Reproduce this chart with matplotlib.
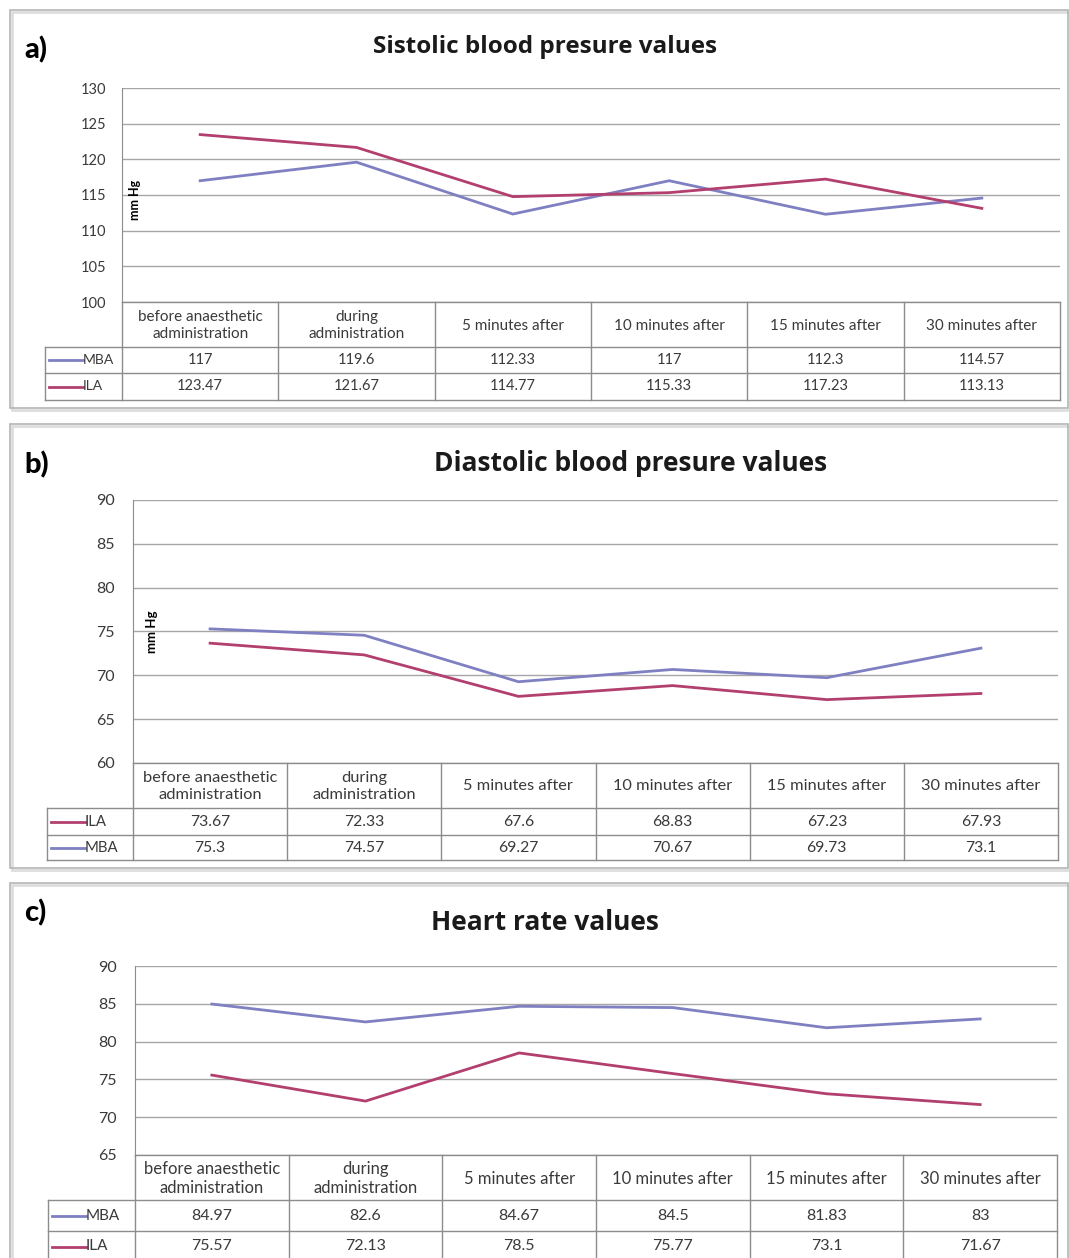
import matplotlib
matplotlib.use("Agg")
import matplotlib.pyplot as plt
from matplotlib.lines import Line2D
from matplotlib.patches import Rectangle

plt.rcParams['font.family'] = ['Lato', 'DejaVu Sans']

W, H = 1069, 1258

categories = ["before anaesthetic\nadministration", "during\nadministration",
              "5 minutes after", "10 minutes after", "15 minutes after",
              "30 minutes after"]

sys_mba = [117, 119.6, 112.33, 117, 112.3, 114.57]
sys_ila = [123.47, 121.67, 114.77, 115.33, 117.23, 113.13]

dia_ila = [73.67, 72.33, 67.6, 68.83, 67.23, 67.93]
dia_mba = [75.3, 74.57, 69.27, 70.67, 69.73, 73.1]

hr_mba = [84.97, 82.6, 84.67, 84.5, 81.83, 83]
hr_ila = [75.57, 72.13, 78.5, 75.77, 73.1, 71.67]

mba_color = '#7f80c2'
ila_color = '#b23f6e'
grid_color = '#a6a6a6'
tab_color = '#8c8c8c'
txt_color = '#3a3a3a'

panels = [
    dict(label='a)', title='Sistolic blood presure values', title_xy=(545, 47), title_size=17.5,
         label_xy=(24, 50), box=(10, 10, 1068, 408),
         plot=(122, 88, 1060, 302), legend_left=45, rows_y=[347, 373, 400],
         ylim=(100, 130), ticks=[100, 105, 110, 115, 120, 125, 130], tick_size=10.5, pad=11,
         tab_size=11, mmhg=(135, 200), mmhg_size=9,
         series=[('MBA', sys_mba, mba_color), ('ILA', sys_ila, ila_color)]),
    dict(label='b)', title='Diastolic blood presure values', title_xy=(631, 463), title_size=19,
         label_xy=(24, 465), box=(10, 424, 1068, 868),
         plot=(133, 500, 1058, 763), legend_left=47, rows_y=[808, 835, 860],
         ylim=(60, 90), ticks=[60, 65, 70, 75, 80, 85, 90], tick_size=11.5, pad=13,
         tab_size=11.8, mmhg=(152, 632), mmhg_size=9.5,
         series=[('ILA', dia_ila, ila_color), ('MBA', dia_mba, mba_color)]),
    dict(label='c)', title='Heart rate values', title_xy=(545, 922), title_size=19,
         label_xy=(24, 913), box=(10, 883, 1068, 1262),
         plot=(135, 966, 1057, 1155), legend_left=48, rows_y=[1200, 1231, 1262],
         ylim=(65, 90), ticks=[65, 70, 75, 80, 85, 90], tick_size=11.5, pad=13,
         tab_size=12, mmhg=None, mmhg_size=9,
         series=[('MBA', hr_mba, mba_color), ('ILA', hr_ila, ila_color)]),
]


def fx(x):
    return x / W


def fy(y):
    return 1 - y / H


def fline(fig, xs, ys, color=tab_color, lw=1.0):
    fig.add_artist(Line2D([fx(x) for x in xs], [fy(y) for y in ys],
                          color=color, lw=lw, transform=fig.transFigure))


fig = plt.figure(figsize=(W / 100, H / 100), dpi=100)
fig.patch.set_facecolor('white')

for p in panels:
    bx0, by0, bx1, by1 = p['box']
    # panel frame with a faint shadow
    fig.add_artist(Rectangle((fx(bx0 + 2), fy(by1 + 2)), fx(bx1 - bx0), (by1 - by0) / H,
                             transform=fig.transFigure, fill=False, ec='#dddddd', lw=2))
    fig.add_artist(Rectangle((fx(bx0), fy(by1)), fx(bx1 - bx0), (by1 - by0) / H,
                             transform=fig.transFigure, fill=False, ec='#b5b5b5', lw=1.2))

    fig.text(fx(p['label_xy'][0]), fy(p['label_xy'][1]), p['label'], fontsize=21,
             fontweight='black', ha='left', va='center')
    fig.text(fx(p['title_xy'][0]), fy(p['title_xy'][1]), p['title'], fontsize=p['title_size'],
             fontweight='bold', family=['Open Sans', 'DejaVu Sans'],
             ha='center', va='center', color='#1a1a1a')

    l, t, r, b = p['plot']
    ax = fig.add_axes([fx(l), fy(b), fx(r - l), (b - t) / H])
    ax.set_xlim(-0.5, 5.5)
    ax.set_ylim(*p['ylim'])
    ax.set_yticks(p['ticks'])
    ax.set_xticks([])
    for s in ['top', 'right', 'bottom']:
        ax.spines[s].set_visible(False)
    ax.spines['left'].set_color(tab_color)
    ax.tick_params(axis='y', length=0, pad=p['pad'], labelsize=p['tick_size'],
                   labelcolor=txt_color)
    ax.yaxis.grid(True, color=grid_color, lw=1)
    ax.set_axisbelow(True)
    for name, vals, col in p['series']:
        ax.plot(range(len(vals)), vals, color=col, lw=2.0, solid_joinstyle='miter')
    if p['mmhg']:
        fig.text(fx(p['mmhg'][0]), fy(p['mmhg'][1]), 'mm Hg', rotation=90,
                 fontsize=p['mmhg_size'], fontweight='bold', ha='center', va='center')

    # data table under the plot
    n = len(categories)
    cw = (r - l) / n
    cols = [l + i * cw for i in range(n + 1)]
    hb = p['rows_y'][0]
    bottom = p['rows_y'][-1]
    fline(fig, [l, r], [b, b])
    for x in cols:
        fline(fig, [x, x], [b, bottom])
    for y in p['rows_y']:
        fline(fig, [p['legend_left'], r], [y, y])
    fline(fig, [p['legend_left'], p['legend_left']], [hb, bottom])
    for i, c in enumerate(categories):
        fig.text(fx(cols[i] + cw / 2), fy((b + hb) / 2 + 1), c, fontsize=p['tab_size'],
                 ha='center', va='center', color=txt_color, linespacing=1.2)
    for k, (name, vals, col) in enumerate(p['series']):
        y0, y1 = p['rows_y'][k], p['rows_y'][k + 1]
        ym = (y0 + y1) / 2
        ll = p['legend_left']
        fline(fig, [ll + 4, ll + 38], [ym, ym], color=col, lw=2.0)
        fig.text(fx(ll + 38), fy(ym), name, fontsize=p['tab_size'] - 1, ha='left',
                 va='center', color=txt_color)
        for i, v in enumerate(vals):
            fig.text(fx(cols[i] + cw / 2), fy(ym), '{:g}'.format(v), fontsize=p['tab_size'] - 0.5,
                     ha='center', va='center', color=txt_color)

fig.savefig('out.png', dpi=100, facecolor='white')
